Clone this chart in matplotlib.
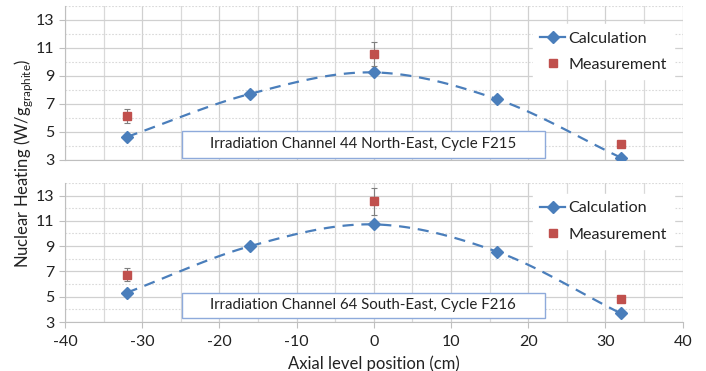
import matplotlib.pyplot as plt
import numpy as np
from matplotlib.lines import Line2D
from matplotlib.patches import Rectangle
from matplotlib.ticker import MultipleLocator, FixedLocator

positions = [-32, -16, 0, 16, 32]
calc_f215 = [4.64, 7.72, 9.25, 7.33, 3.16]
calc_f216 = [5.32, 9.0, 10.72, 8.55, 3.68]

meas_pos = [-32, 0, 32]
meas_f215 = [6.15, 10.55, 4.14]
err_f215 = [0.5, 0.85, 0.2]
meas_f216 = [6.75, 12.53, 4.85]
err_f216 = [0.52, 1.05, 0.2]

titles = ["Irradiation Channel 44 North-East, Cycle F215",
          "Irradiation Channel 64 South-East, Cycle F216"]

BLUE = "#4A7EBB"
RED = "#C0504D"
TXT = "#222222"

plt.rcParams['font.family'] = ['Lato', 'DejaVu Sans']
plt.rcParams['axes.unicode_minus'] = False


def smooth(x, y, n=30):
	# catmull-rom style smoothing, like a spreadsheet "smoothed line"
	x = np.asarray(x, float)
	y = np.asarray(y, float)
	px = np.concatenate([[2 * x[0] - x[1]], x, [2 * x[-1] - x[-2]]])
	py = np.concatenate([[2 * y[0] - y[1]], y, [2 * y[-1] - y[-2]]])
	xs, ys = [], []
	t = np.linspace(0, 1, n)
	for i in range(1, len(px) - 2):
		for arr, out in ((px, xs), (py, ys)):
			p0, p1, p2, p3 = arr[i - 1], arr[i], arr[i + 1], arr[i + 2]
			out.extend(0.5 * (2 * p1 + (-p0 + p2) * t + (2 * p0 - 5 * p1 + 4 * p2 - p3) * t ** 2
			                  + (-p0 + 3 * p1 - 3 * p2 + p3) * t ** 3))
	return xs, ys


def panel(ax, calc, meas, err, title, box_y, leg_y, show_x):
	sx, sy = smooth(positions, calc)
	ax.plot(sx, sy, color=BLUE, lw=1.6, dashes=(5, 3.5), zorder=3)
	ax.plot(positions, calc, ls="none", marker="D", ms=6.5, color=BLUE, zorder=4)
	ax.errorbar(meas_pos, meas, yerr=err, fmt="s", ms=6, color=RED, ecolor="#7f7f7f",
	            elinewidth=0.8, capsize=2.5, capthick=0.8, zorder=5)

	ax.set_xlim(-40, 40)
	ax.set_ylim(3, 14)
	ax.xaxis.set_major_locator(MultipleLocator(10))
	ax.xaxis.set_minor_locator(MultipleLocator(5))
	ax.yaxis.set_major_locator(FixedLocator([3, 5, 7, 9, 11, 13]))
	ax.yaxis.set_minor_locator(FixedLocator([4, 6, 8, 10, 12, 14]))
	ax.grid(which="major", color="#d0d0d0", lw=0.9)
	ax.grid(which="minor", axis="x", color="#d9d9d9", lw=0.9)
	ax.grid(which="minor", axis="y", color="#d9d9d9", lw=0.8, ls=(0, (1.5, 1.5)))
	for s in ax.spines.values():
		s.set_visible(False)
	for s in ("left", "bottom"):
		ax.spines[s].set_visible(True)
		ax.spines[s].set_color("#bfbfbf")
	ax.tick_params(which="major", length=4, color="#bfbfbf", labelsize=11.5, labelcolor=TXT)
	ax.tick_params(which="minor", length=0)
	ax.tick_params(axis="x", labelbottom=show_x, length=4 if show_x else 0, pad=5)
	ax.set_axisbelow(True)

	# label box
	ax.add_patch(Rectangle((0.189, box_y[0]), 0.588, box_y[1] - box_y[0], transform=ax.transAxes,
	                       fc="white", ec="#8EAADB", lw=1.0, zorder=6))
	ax.text(0.483, (box_y[0] + box_y[1]) / 2, title, transform=ax.transAxes, ha="center",
	        va="center", fontsize=10.8, color=TXT, zorder=7)

	handles = [Line2D([], [], color=BLUE, lw=1.6, marker="D", ms=6.5),
	           Line2D([], [], ls="none", color=RED, marker="s", ms=6)]
	leg = ax.legend(handles, ["Calculation", "Measurement"], loc="upper left",
	                bbox_to_anchor=(0.745, leg_y), fontsize=11.6, frameon=True,
	                handlelength=1.5, handletextpad=0.25, labelspacing=0.75, borderpad=0.45)
	leg.get_frame().set_edgecolor("white")
	leg.get_frame().set_alpha(1)
	leg.get_frame().set_boxstyle("square", pad=0)
	for t in leg.get_texts():
		t.set_color(TXT)


fig = plt.figure(figsize=(7.06, 3.71), dpi=100)
ax1 = fig.add_axes([0.092, 0.569, 0.875, 0.415])
ax2 = fig.add_axes([0.092, 0.132, 0.875, 0.375])

panel(ax1, calc_f215, meas_f215, err_f215, titles[0], (0.015, 0.188), 0.935, False)
panel(ax2, calc_f216, meas_f216, err_f216, titles[1], (0.031, 0.21), 0.98, True)

ax2.set_xlabel("Axial level position (cm)", fontsize=12, color=TXT, labelpad=5)
fig.text(0.033, 0.56, "Nuclear Heating (W/g$_{\\mathregular{graphite}}$)", rotation=90,
         ha="center", va="center", fontsize=12, color=TXT)

fig.savefig("out.png", dpi=100, facecolor="white")
